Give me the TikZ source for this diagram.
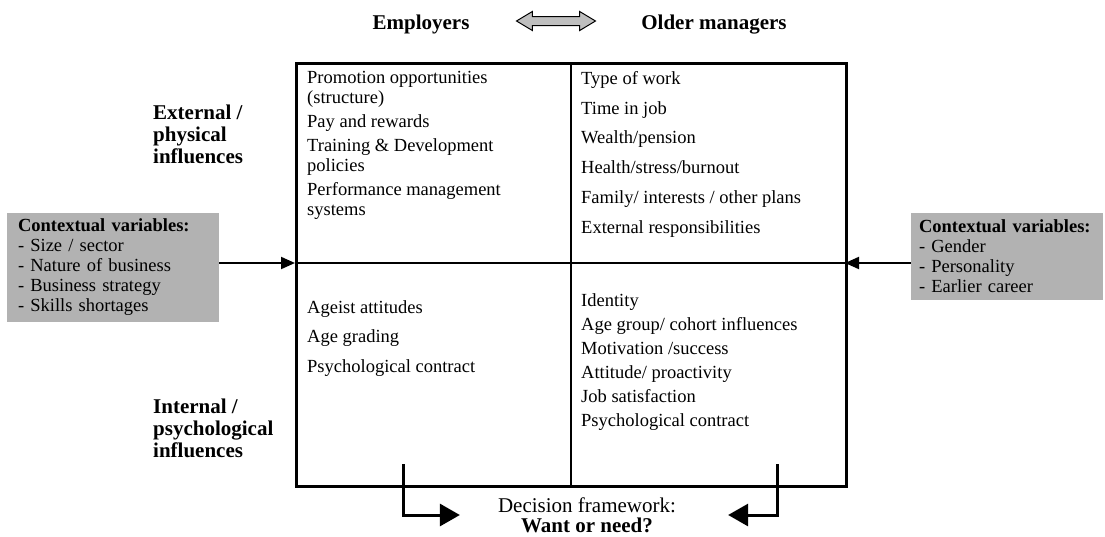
\documentclass[tikz,border=0pt]{standalone}
\usepackage{fontspec}
\setmainfont{Liberation Serif}
\usetikzlibrary{arrows.meta,positioning,shapes.arrows}

\tikzset{
  item/.style={anchor=north west, align=left, inner sep=0pt, font=\fontsize{18.5}{20}\selectfont},
  heading/.style={anchor=north west, align=left, inner sep=0pt, font=\fontsize{21}{22}\selectfont\bfseries},
  ctxbox/.style={fill=gray!60, align=left, inner ysep=0pt, font=\fontsize{18.5}{20}\selectfont},
  divider/.style={line width=1.5pt},
  ctxarrow/.style={-{Triangle[length=14pt,width=12pt]}, line width=2pt},
  bentarrow/.style={-{Triangle[length=20pt,width=22pt]}, line width=3pt},
}

\begin{document}
\begin{tikzpicture}[x=1pt, y=-1pt]
    \useasboundingbox (0,0) rectangle (1105,536);

    % TOP: the two parties
    \node[heading, anchor=base] (emp) at (421,29) {Employers};
    \node[heading, anchor=base] (mgr) at (714,29) {Older managers};
    \node[double arrow, draw, fill=gray!50, line width=1pt, inner xsep=0pt, inner ysep=4pt,
          minimum height=79pt, double arrow head extend=5pt, double arrow tip angle=62,
          double arrow head indent=0pt] (link) at (556,21) {};

    % GRID: four quadrants
    \node[draw, line width=2.5pt, minimum width=550pt, minimum height=423pt, inner sep=0pt,
          anchor=north west] (grid) at (295,62) {};
    \coordinate (divL) at (295,263);
    \coordinate (divR) at (845,263);
    \draw[divider] (divL) -- (divR);
    \draw[divider] (571,62) -- (571,485);

    % Row labels
    \node[heading] (extLbl) at (153,105) {External /\\physical\\influences};
    \node[heading] (intLbl) at (153,399) {Internal /\\psychological\\influences};

    % Quadrant contents
    \node[item] (extEmp) at (307,71) {Promotion opportunities\\(structure)\\[4pt]Pay and rewards\\[4pt]Training \& Development\\policies\\[4pt]Performance management\\systems};
    \node[item] (extMgr) at (581,71) {Type of work\\[9.8pt]Time in job\\[9.8pt]Wealth/pension\\[9.8pt]Health/stress/burnout\\[9.8pt]Family/ interests / other plans\\[9.8pt]External responsibilities};
    \node[item] (intEmp) at (307,300) {Ageist attitudes\\[9.5pt]Age grading\\[9.5pt]Psychological contract};
    \node[item] (intMgr) at (581,293) {Identity\\[4pt]Age group/ cohort influences\\[4pt]Motivation /success\\[4pt]Attitude/ proactivity\\[4pt]Job satisfaction\\[4pt]Psychological contract};

    % SIDES: contextual variables
    \node[ctxbox, inner xsep=11pt, text width=190pt, minimum height=109pt] (ctxL) at (113,267.5)
        {\textbf{Contextual variables:}\\- Size / sector\\- Nature of business\\- Business strategy\\- Skills shortages};
    \node[ctxbox, inner xsep=8pt, text width=176pt, minimum height=87pt] (ctxR) at (1007,256.5)
        {\textbf{Contextual variables:}\\- Gender\\- Personality\\- Earlier career};
    \draw[ctxarrow] (ctxL.east |- divL) -- (divL);
    \draw[ctxarrow] (ctxR.west |- divR) -- (divR);

    % BOTTOM: decision framework
    \node[align=center, inner sep=0pt, font=\fontsize{21}{20}\selectfont] (dec) at (587,515)
        {Decision framework:\\\textbf{Want or need?}};
    \coordinate (outL) at (403,464);
    \coordinate (outR) at (777,464);
    \draw[bentarrow, shorten >=38pt] (outL) |- (dec.west);
    \draw[bentarrow, shorten >=52pt] (outR) |- (dec.east);
\end{tikzpicture}
\end{document}
